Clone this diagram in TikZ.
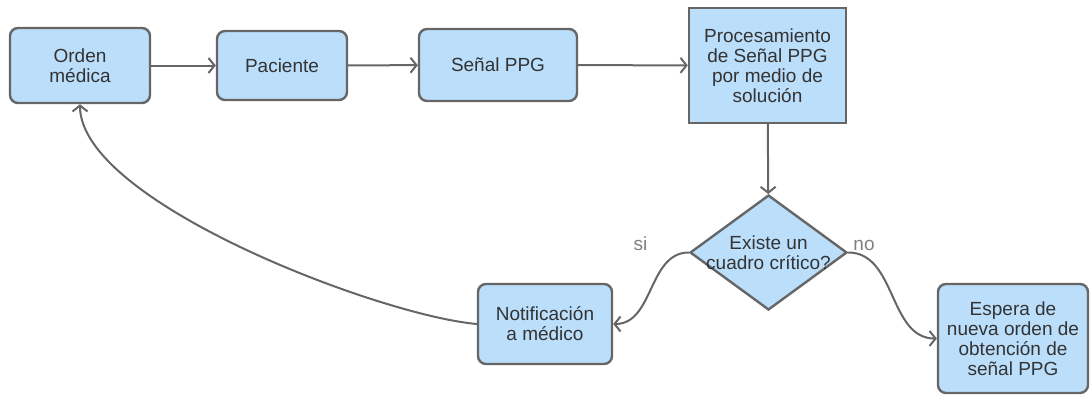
\documentclass[tikz,border=0pt]{standalone}
\usepackage{fontspec}
\setmainfont{Liberation Sans}
\usetikzlibrary{shapes.geometric,arrows.meta}
\definecolor{boxfill}{RGB}{187,222,251}
\definecolor{boxline}{RGB}{102,102,102}
\definecolor{boxtext}{RGB}{51,51,51}
\definecolor{lbltext}{RGB}{128,128,128}
\begin{document}
\begin{tikzpicture}[x=1pt,y=-1pt,
  every node/.style={font=\fontsize{19}{20}\selectfont,text=boxtext,align=center,inner sep=0pt},
  box/.style={draw=boxline,fill=boxfill,line width=2.4pt,rounded corners=8pt},
  proc/.style={draw=boxline,fill=boxfill,line width=2.4pt},
  decision/.style={diamond,draw=boxline,fill=boxfill,line width=2.4pt},
  lbl/.style={text=lbltext,anchor=base},
  link/.style={draw=boxline,line width=2pt,-{Straight Barb[length=6pt,width=15pt]}}]
\useasboundingbox (0,0) rectangle (1091,396);
\node[box,minimum width=140,minimum height=75] (orden) at (80,65.5) {Orden\\médica};
\node[box,minimum width=130,minimum height=69] (paciente) at (282,65.5) {Paciente};
\node[box,minimum width=158,minimum height=72] (senal) at (498,65) {Señal PPG};
\node[proc,minimum width=157,minimum height=115] (proc) at (767.5,65.5) {Procesamiento\\de Señal PPG\\por medio de\\solución};
\node[decision,minimum width=157,minimum height=115] (crit) at (768.5,252.5) {};
\node at (crit) {Existe un\\cuadro crítico?};
\node[box,minimum width=134,minimum height=80] (notif) at (545,324) {Notificación\\a médico};
\node[box,minimum width=150,minimum height=109] (espera) at (1013,338.5) {Espera de\\nueva orden de\\obtención de\\señal PPG};
\node[lbl] (si) at (640.5,250) {si};
\node[lbl] (no) at (864,250) {no};
% flujo principal
\draw[link] (orden) -- (paciente);
\draw[link] (paciente) -- (senal);
\draw[link] (senal) -- (proc);
\draw[link] (proc) -- (crit);
\draw[link] (crit.west) to[out=180,in=0] (notif.east);
\draw[link] (crit.east) to[out=0,in=180] (espera.west);
\draw[link] (notif.west) to[out=175,in=-90,looseness=0.55] (orden.south);
\end{tikzpicture}
\end{document}
